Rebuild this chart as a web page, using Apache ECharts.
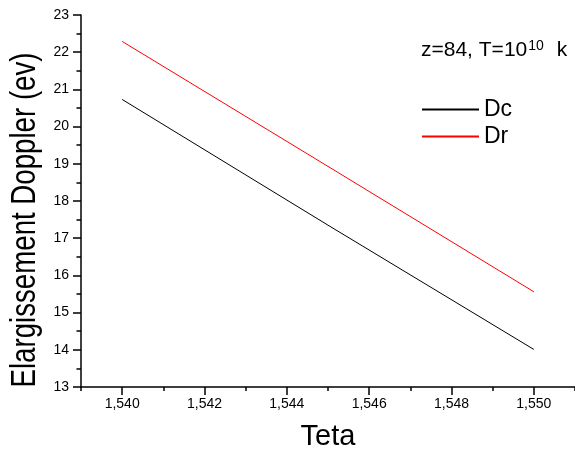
<!DOCTYPE html>
<html>
<head>
<meta charset="utf-8">
<script src="https://cdn.jsdelivr.net/npm/echarts@6/dist/echarts.min.js"></script>
<style>
  html, body { margin: 0; padding: 0; background: #fff; }
  #chart { width: 575px; height: 456px; }
</style>
</head>
<body>
<div id="chart"></div>
<script>
// Teta values and the two Doppler broadening curves (eV)
const teta = [1.540, 1.545, 1.550];
const dcValues = [20.73, 17.35, 14.01];
const drValues = [22.29, 18.93, 15.56];

// Axis ticks
const xMajorTicks = [1.540, 1.542, 1.544, 1.546, 1.548, 1.550];
const xMinorTicks = [1.539, 1.541, 1.543, 1.545, 1.547, 1.549, 1.551];
const yTicks = [13, 14, 15, 16, 17, 18, 19, 20, 21, 22, 23];

const FONT = '"Liberation Sans", Arial, sans-serif';
const INK = '#000';

const chart = echarts.init(document.getElementById('chart'));

const pairs = (xs, ys) => xs.map((x, i) => [x, ys[i]]);

chart.setOption({
  animation: false,
  backgroundColor: '#fff',
  textStyle: { fontFamily: FONT, color: INK },
  title: {
    left: 421,
    top: 39,
    padding: 0,
    text: '{a|z=84, T=10}{b|10}{c|k}',
    textStyle: {
      fontWeight: 'normal',
      rich: {
        a: { fontFamily: FONT, fontSize: 21, fontWeight: 'normal', color: INK, lineHeight: 22, verticalAlign: 'bottom' },
        b: { fontFamily: FONT, fontSize: 14, fontWeight: 'normal', color: INK, lineHeight: 14, verticalAlign: 'top', padding: [0, 0, 14, 1] },
        c: { fontFamily: FONT, fontSize: 21, fontWeight: 'normal', color: INK, lineHeight: 22, verticalAlign: 'bottom', padding: [0, 0, 0, 13] }
      }
    }
  },
  legend: {
    orient: 'vertical',
    left: 421,
    top: 98,
    padding: 0,
    itemWidth: 57,
    itemHeight: 23,
    itemGap: 4,
    itemStyle: { opacity: 0 },
    textStyle: { fontFamily: FONT, fontSize: 23, color: INK, lineHeight: 23 },
    data: ['Dc', 'Dr']
  },
  grid: { left: 81, right: -5, top: 15, bottom: 68 },
  xAxis: [
    {
      type: 'value',
      min: 1.539,
      max: 1.551,
      name: 'Teta',
      nameLocation: 'middle',
      nameGap: 35,
      nameTextStyle: { fontFamily: FONT, fontSize: 29, color: INK },
      axisLine: { show: true, lineStyle: { color: INK, width: 1.5 } },
      axisTick: { show: true, inside: false, length: 8, customValues: xMajorTicks, lineStyle: { color: INK, width: 1.5 } },
      axisLabel: {
        show: true,
        margin: 10,
        fontFamily: FONT,
        fontSize: 14,
        color: INK,
        customValues: xMajorTicks,
        formatter: v => v.toFixed(3).replace('.', ',')
      },
      splitLine: { show: false }
    },
    {
      type: 'value',
      min: 1.539,
      max: 1.551,
      position: 'bottom',
      axisLine: { show: false },
      axisTick: { show: true, inside: false, length: 4, customValues: xMinorTicks, lineStyle: { color: INK, width: 1.5 } },
      axisLabel: { show: false },
      splitLine: { show: false }
    }
  ],
  yAxis: {
    type: 'value',
    min: yTicks[0],
    max: yTicks[yTicks.length - 1],
    interval: 1,
    axisLine: { show: true, lineStyle: { color: INK, width: 1.5 } },
    axisTick: { show: true, inside: false, length: 8, lineStyle: { color: INK, width: 1.5 } },
    minorTick: { show: true, splitNumber: 2, length: 4.5, lineStyle: { color: INK, width: 1.5 } },
    axisLabel: { margin: 12, fontFamily: FONT, fontSize: 14, color: INK },
    splitLine: { show: false }
  },
  graphic: [
    {
      type: 'text',
      x: 25,
      y: 220,
      rotation: Math.PI / 2,
      scaleX: 0.79,
      style: {
        text: 'Elargissement Doppler (ev)',
        font: '35px "Liberation Sans", Arial, sans-serif',
        fill: INK,
        textAlign: 'center',
        textVerticalAlign: 'middle'
      }
    }
  ],
  series: [
    {
      name: 'Dc',
      type: 'line',
      xAxisIndex: 0,
      symbol: 'none',
      lineStyle: { color: '#000000', width: 1 },
      itemStyle: { color: '#000000' },
      data: pairs(teta, dcValues)
    },
    {
      name: 'Dr',
      type: 'line',
      xAxisIndex: 0,
      symbol: 'none',
      lineStyle: { color: '#ff0000', width: 1 },
      itemStyle: { color: '#ff0000' },
      data: pairs(teta, drValues)
    }
  ]
});
</script>
</body>
</html>
